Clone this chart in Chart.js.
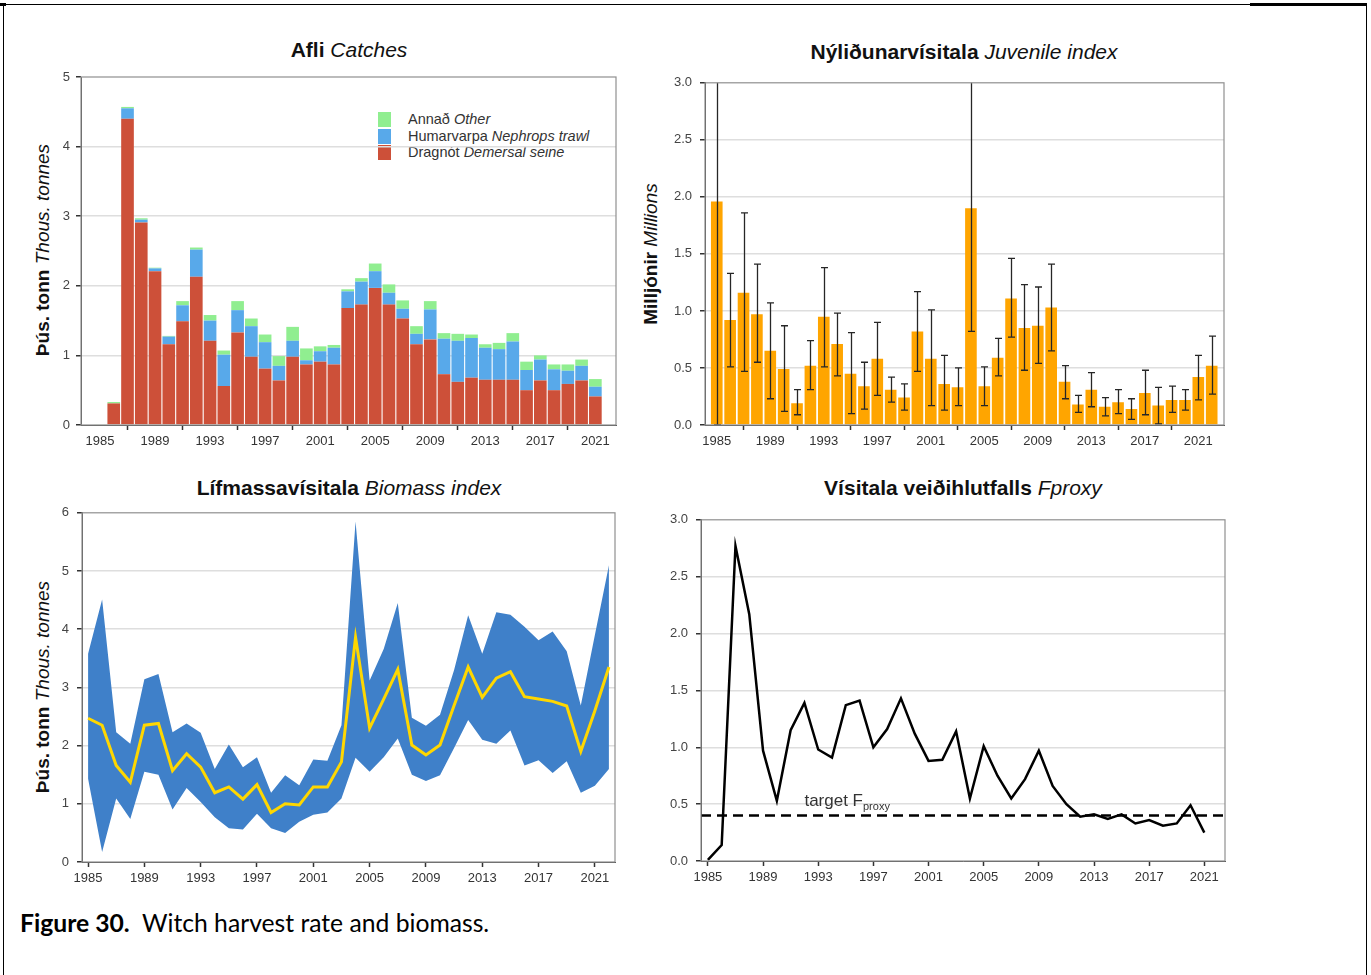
<!DOCTYPE html>
<html>
<head>
<meta charset="utf-8">
<script src="https://cdn.jsdelivr.net/npm/chart.js@4.4.1/dist/chart.umd.min.js"></script>
<style>
  html, body { margin: 0; padding: 0; background: #fff; }
  body { width: 1371px; height: 975px; position: relative; overflow: hidden;
         font-family: "Liberation Sans", Arial, sans-serif; color: #111; }
  canvas { position: absolute; }
  .rule { position: absolute; background: #000; }
  .title { position: absolute; font-size: 21px; font-weight: bold; white-space: nowrap;
           transform: translate(-50%, -50%); color: #111; }
  .title i, .ylab i, .legend i { font-weight: normal; }
  .ylab { position: absolute; font-size: 19px; font-weight: bold; white-space: nowrap;
          transform: translate(-50%, -50%) rotate(-90deg); color: #111; }
  .legend { position: absolute; font-size: 14.5px; color: #333; }
  .legend .row { height: 16.5px; line-height: 16.5px; white-space: nowrap; position: relative; padding-left: 30px; }
  .legend .sw { position: absolute; left: 0; top: 1px; width: 13px; height: 15px; }
  .caption { position: absolute; left: 20px; top: 908px; font-family: Lato, "Open Sans", sans-serif;
             font-size: 24.7px; color: #000; white-space: nowrap; }
</style>
</head>
<body>

<!-- page frame -->
<div class="rule" style="left:0;top:3px;width:6px;height:3px"></div>
<div class="rule" style="left:3px;top:4px;width:1364px;height:1px"></div>
<div class="rule" style="left:1250px;top:3px;width:117px;height:3px"></div>
<div class="rule" style="left:3px;top:4px;width:1px;height:971px"></div>
<div class="rule" style="left:1366px;top:4px;width:1px;height:971px"></div>

<div class="title" style="left:349px;top:50px">Afli <i>Catches</i></div>
<div class="title" style="left:964px;top:52px">Nýliðunarvísitala <i>Juvenile index</i></div>
<div class="title" style="left:349px;top:488px">Lífmassavísitala <i>Biomass index</i></div>
<div class="title" style="left:963px;top:488px">Vísitala veiðihlutfalls <i>Fproxy</i></div>

<div class="ylab" style="left:43px;top:250px">Þús. tonn <i>Thous. tonnes</i></div>
<div class="ylab" style="left:651px;top:254px">Milljónir <i>Millions</i></div>
<div class="ylab" style="left:43px;top:687px">Þús. tonn <i>Thous. tonnes</i></div>

<div class="legend" id="catchLegend" style="left:378px;top:111px"></div>

<canvas id="catches"></canvas>
<canvas id="juvenile"></canvas>
<canvas id="biomass"></canvas>
<canvas id="fproxy"></canvas>

<div class="caption"><b>Figure 30.</b>&nbsp; Witch harvest rate and biomass.</div>

<script>
// ---- data -------------------------------------------------------------
const yearTicks = [1985, 1989, 1993, 1997, 2001, 2005, 2009, 2013, 2017, 2021];

// Catches by gear, thousand tonnes
const catchYears = [1985, 1986, 1987, 1988, 1989, 1990, 1991, 1992, 1993, 1994,
  1995, 1996, 1997, 1998, 1999, 2000, 2001, 2002, 2003, 2004, 2005, 2006, 2007,
  2008, 2009, 2010, 2011, 2012, 2013, 2014, 2015, 2016, 2017, 2018, 2019, 2020, 2021];
const demersalSeine = [0.00, 0.31, 4.40, 2.91, 2.21, 1.16, 1.49, 2.13, 1.21, 0.56,
  1.33, 0.98, 0.81, 0.64, 0.98, 0.87, 0.91, 0.87, 1.68, 1.73, 1.97, 1.73, 1.53,
  1.16, 1.23, 0.73, 0.62, 0.68, 0.65, 0.65, 0.65, 0.50, 0.64, 0.50, 0.59, 0.64, 0.41];
const nephropsTrawl = [0.00, 0.00, 0.15, 0.04, 0.04, 0.11, 0.23, 0.39, 0.29, 0.45,
  0.32, 0.44, 0.38, 0.21, 0.23, 0.06, 0.15, 0.24, 0.24, 0.33, 0.24, 0.17, 0.14,
  0.15, 0.43, 0.51, 0.59, 0.57, 0.46, 0.44, 0.55, 0.29, 0.30, 0.30, 0.19, 0.21, 0.14];
const otherGear = [0.01, 0.02, 0.02, 0.02, 0.01, 0.01, 0.06, 0.03, 0.08, 0.06,
  0.13, 0.11, 0.11, 0.14, 0.20, 0.17, 0.07, 0.04, 0.03, 0.05, 0.11, 0.12, 0.12,
  0.11, 0.12, 0.08, 0.10, 0.05, 0.05, 0.09, 0.12, 0.12, 0.06, 0.07, 0.09, 0.09, 0.11];

// Juvenile survey index, millions, with confidence limits
const juvYears = [1985, 1986, 1987, 1988, 1989, 1990, 1991, 1992, 1993, 1994,
  1995, 1996, 1997, 1998, 1999, 2000, 2001, 2002, 2003, 2004, 2005, 2006, 2007,
  2008, 2009, 2010, 2011, 2012, 2013, 2014, 2015, 2016, 2017, 2018, 2019, 2020, 2021, 2022];
const juvIndex = [1.96, 0.92, 1.16, 0.97, 0.65, 0.49, 0.19, 0.52, 0.95, 0.71,
  0.45, 0.34, 0.58, 0.31, 0.24, 0.82, 0.58, 0.36, 0.33, 1.90, 0.34, 0.59, 1.11,
  0.85, 0.87, 1.03, 0.38, 0.18, 0.31, 0.16, 0.20, 0.14, 0.28, 0.17, 0.22, 0.22, 0.42, 0.52];
const juvLow = [0.00, 0.51, 0.47, 0.55, 0.23, 0.12, 0.09, 0.31, 0.51, 0.43,
  0.10, 0.14, 0.26, 0.20, 0.13, 0.47, 0.17, 0.13, 0.17, 0.82, 0.17, 0.43, 0.77,
  0.48, 0.54, 0.65, 0.23, 0.11, 0.16, 0.08, 0.10, 0.05, 0.09, 0.01, 0.11, 0.13, 0.22, 0.27];
const juvHigh = [4.60, 1.33, 1.86, 1.41, 1.07, 0.87, 0.31, 0.74, 1.38, 0.98,
  0.81, 0.55, 0.90, 0.42, 0.36, 1.17, 1.01, 0.61, 0.50, 4.20, 0.51, 0.76, 1.46,
  1.23, 1.21, 1.41, 0.52, 0.26, 0.46, 0.24, 0.31, 0.23, 0.48, 0.33, 0.34, 0.31, 0.61, 0.78];

// Survey biomass index, thousand tonnes, with confidence band
const bioYears = [1985, 1986, 1987, 1988, 1989, 1990, 1991, 1992, 1993, 1994,
  1995, 1996, 1997, 1998, 1999, 2000, 2001, 2002, 2003, 2004, 2005, 2006, 2007,
  2008, 2009, 2010, 2011, 2012, 2013, 2014, 2015, 2016, 2017, 2018, 2019, 2020, 2021, 2022];
const bioMean = [2.47, 2.35, 1.66, 1.37, 2.35, 2.38, 1.57, 1.86, 1.63, 1.19,
  1.29, 1.08, 1.33, 0.85, 1.00, 0.98, 1.29, 1.29, 1.72, 3.86, 2.30, 2.80, 3.31,
  2.01, 1.84, 2.01, 2.69, 3.35, 2.83, 3.16, 3.27, 2.84, 2.80, 2.76, 2.68, 1.90, 2.60, 3.35];
const bioLow = [1.43, 0.17, 1.09, 0.74, 1.55, 1.50, 0.90, 1.27, 1.03, 0.77,
  0.58, 0.56, 0.83, 0.58, 0.50, 0.69, 0.81, 0.85, 1.09, 1.79, 1.55, 1.80, 2.12,
  1.50, 1.39, 1.49, 1.96, 2.44, 2.10, 2.03, 2.26, 1.66, 1.75, 1.53, 1.73, 1.19, 1.31, 1.60];
const bioHigh = [3.58, 4.51, 2.23, 2.03, 3.14, 3.23, 2.23, 2.38, 2.22, 1.60,
  2.02, 1.63, 1.80, 1.19, 1.49, 1.32, 1.76, 1.74, 2.35, 5.85, 3.12, 3.66, 4.45,
  2.48, 2.34, 2.53, 3.30, 4.24, 3.58, 4.29, 4.25, 4.04, 3.81, 3.96, 3.62, 2.69, 3.90, 5.10];

// Harvest rate index (catch / biomass) and its target
const fYears = [1985, 1986, 1987, 1988, 1989, 1990, 1991, 1992, 1993, 1994,
  1995, 1996, 1997, 1998, 1999, 2000, 2001, 2002, 2003, 2004, 2005, 2006, 2007,
  2008, 2009, 2010, 2011, 2012, 2013, 2014, 2015, 2016, 2017, 2018, 2019, 2020, 2021];
const fProxy = [0.01, 0.14, 2.77, 2.17, 0.97, 0.53, 1.15, 1.39, 0.98, 0.91,
  1.37, 1.41, 1.00, 1.16, 1.43, 1.12, 0.88, 0.89, 1.14, 0.55, 1.01, 0.75, 0.55,
  0.72, 0.97, 0.66, 0.50, 0.39, 0.41, 0.37, 0.41, 0.33, 0.36, 0.31, 0.33, 0.49, 0.25];
const fTarget = 0.4;

// ---- styling ----------------------------------------------------------
const FONT = '"Liberation Sans", Arial, sans-serif';
const COL = {
  seine: '#CD5039', nephrops: '#58A9EA', other: '#90EE90',
  juvenile: '#FFA500', band: '#3F80C9', mean: '#FFD700', fline: '#000'
};
Chart.defaults.font.family = FONT;
Chart.defaults.animation = false;

const AX_W = 50, AX_H = 35, PAD = 15;

function placeCanvas(id, area) {
  const c = document.getElementById(id);
  const w = area.right - area.left + AX_W + PAD;
  const h = area.bottom - area.top + AX_H + PAD;
  c.width = w; c.height = h;
  c.style.width = w + 'px'; c.style.height = h + 'px';
  c.style.left = (area.left - AX_W) + 'px';
  c.style.top = (area.top - PAD) + 'px';
  return c;
}

function xAxis(min, max) {
  return {
    type: 'linear', min: min, max: max, offset: false, stacked: true,
    afterBuildTicks: s => { s.ticks = yearTicks.map(v => ({ value: v })); },
    afterFit: s => { s.height = AX_H; },
    grid: { drawOnChartArea: false, drawTicks: true, tickLength: 5, tickColor: '#333', tickWidth: 1.5 },
    border: { display: true, color: '#444', width: 1 },
    ticks: { color: '#333', font: { size: 13 }, padding: 4, maxRotation: 0, autoSkip: false,
             callback: v => String(v) }
  };
}

function yAxis(max, step, decimals, pad) {
  return {
    type: 'linear', min: 0, max: max, stacked: true,
    afterFit: s => { s.width = AX_W; },
    grid: {
      color: ctx => (ctx.tick && (ctx.tick.value === 0 || ctx.tick.value === max)) ? 'rgba(0,0,0,0)' : '#dedede',
      lineWidth: 1.5, tickColor: '#333', tickLength: 5, tickWidth: 1.5
    },
    border: { display: true, color: '#444', width: 1 },
    ticks: { stepSize: step, color: '#444', font: { size: 13 }, padding: pad,
             callback: v => Number(v).toFixed(decimals) }
  };
}

// grey frame round the plotting region
const plotBox = {
  id: 'plotBox',
  afterDatasetsDraw(chart) {
    const { ctx, chartArea: a } = chart;
    ctx.save();
    ctx.strokeStyle = '#8f8f8f';
    ctx.lineWidth = 1.2;
    ctx.strokeRect(a.left, a.top, a.right - a.left, a.bottom - a.top);
    ctx.restore();
  }
};

function errorBarPlugin(years, low, high) {
  return {
    id: 'errorBars',
    afterDatasetsDraw(chart) {
      const { ctx, chartArea: a, scales: { x, y } } = chart;
      ctx.save();
      ctx.beginPath();
      ctx.rect(a.left, a.top, a.right - a.left, a.bottom - a.top);
      ctx.clip();
      ctx.strokeStyle = '#262626';
      ctx.lineWidth = 1.3;
      years.forEach((yr, i) => {
        const px = Math.round(x.getPixelForValue(yr)) + 0.5;
        const lo = y.getPixelForValue(low[i]);
        const hi = y.getPixelForValue(high[i]);
        ctx.beginPath();
        ctx.moveTo(px, lo); ctx.lineTo(px, hi);
        ctx.moveTo(px - 3.5, lo); ctx.lineTo(px + 3.5, lo);
        ctx.moveTo(px - 3.5, hi); ctx.lineTo(px + 3.5, hi);
        ctx.stroke();
      });
      ctx.restore();
    }
  };
}

function targetPlugin(value) {
  return {
    id: 'targetLine',
    afterDatasetsDraw(chart) {
      const { ctx, chartArea: a, scales: { x, y } } = chart;
      const py = y.getPixelForValue(value);
      ctx.save();
      ctx.strokeStyle = '#000';
      ctx.lineWidth = 2.4;
      ctx.setLineDash([10, 6]);
      ctx.beginPath();
      ctx.moveTo(a.left, py); ctx.lineTo(a.right, py);
      ctx.stroke();
      ctx.setLineDash([]);
      // label above the dashed line
      const lx = x.getPixelForValue(1992);
      const ly = y.getPixelForValue(value + 0.08);
      ctx.fillStyle = '#333';
      ctx.textBaseline = 'alphabetic';
      ctx.font = '17px ' + FONT;
      ctx.fillText('target F', lx, ly);
      const w = ctx.measureText('target F').width;
      ctx.font = '11px ' + FONT;
      ctx.fillText('proxy', lx + w, ly + 4);
      ctx.restore();
    }
  };
}

const common = {
  responsive: false, maintainAspectRatio: false, animation: false,
  layout: { padding: { left: 0, top: PAD, right: PAD, bottom: 0 } },
  plugins: { legend: { display: false }, tooltip: { enabled: false } }
};

// ---- Afli / Catches ----------------------------------------------------
(function () {
  const c = placeCanvas('catches', { left: 81, right: 616, top: 77, bottom: 425 });
  const series = [
    { label: 'Dragnót', data: demersalSeine, color: COL.seine },
    { label: 'Humarvarpa', data: nephropsTrawl, color: COL.nephrops },
    { label: 'Annað', data: otherGear, color: COL.other }
  ];
  new Chart(c, {
    type: 'bar',
    data: {
      datasets: series.map(s => ({
        label: s.label,
        data: catchYears.map((yr, i) => ({ x: yr, y: s.data[i] })),
        backgroundColor: s.color, borderWidth: 0,
        categoryPercentage: 1.0, barPercentage: 0.92
      }))
    },
    options: Object.assign({}, common, {
      scales: { x: xAxis(1983.62, 2022.5), y: yAxis(5, 1, 0, 6) }
    }),
    plugins: [plotBox]
  });

  // legend, top entry first
  const leg = document.getElementById('catchLegend');
  const entries = [
    ['Annað', 'Other', COL.other],
    ['Humarvarpa', 'Nephrops trawl', COL.nephrops],
    ['Dragnót', 'Demersal seine', COL.seine]
  ];
  entries.forEach(([is, en, col]) => {
    const row = document.createElement('div');
    row.className = 'row';
    row.innerHTML = '<span class="sw" style="background:' + col + '"></span>' + is + ' <i>' + en + '</i>';
    leg.appendChild(row);
  });
})();

// ---- Nýliðunarvísitala / Juvenile index ------------------------------
(function () {
  const c = placeCanvas('juvenile', { left: 705, right: 1224, top: 82, bottom: 425 });
  new Chart(c, {
    type: 'bar',
    data: {
      datasets: [{
        label: 'Juvenile index',
        data: juvYears.map((yr, i) => ({ x: yr, y: juvIndex[i] })),
        backgroundColor: COL.juvenile, borderWidth: 0,
        categoryPercentage: 1.0, barPercentage: 0.87
      }]
    },
    options: Object.assign({}, common, {
      scales: { x: xAxis(1984.12, 2022.92), y: yAxis(3, 0.5, 1, 8) }
    }),
    plugins: [errorBarPlugin(juvYears, juvLow, juvHigh), plotBox]
  });
})();

// ---- Lífmassavísitala / Biomass index ---------------------------------
(function () {
  const c = placeCanvas('biomass', { left: 82, right: 615, top: 512, bottom: 862 });
  const pts = arr => bioYears.map((yr, i) => ({ x: yr, y: arr[i] }));
  new Chart(c, {
    type: 'line',
    data: {
      datasets: [
        { label: 'Biomass index', data: pts(bioMean), borderColor: COL.mean, borderWidth: 3,
          pointRadius: 0, tension: 0, fill: false },
        { label: 'Upper', data: pts(bioHigh), borderWidth: 0, borderColor: 'rgba(0,0,0,0)',
          backgroundColor: COL.band, pointRadius: 0, tension: 0, fill: '+1' },
        { label: 'Lower', data: pts(bioLow), borderWidth: 0, borderColor: 'rgba(0,0,0,0)',
          pointRadius: 0, tension: 0, fill: false }
      ]
    },
    options: Object.assign({}, common, {
      scales: {
        x: Object.assign(xAxis(1984.57, 2022.43), { stacked: false }),
        y: Object.assign(yAxis(6, 1, 0, 8), { stacked: false })
      }
    }),
    plugins: [plotBox]
  });
})();

// ---- Vísitala veiðihlutfalls / Fproxy ---------------------------------
(function () {
  const c = placeCanvas('fproxy', { left: 701, right: 1225, top: 519, bottom: 861 });
  new Chart(c, {
    type: 'line',
    data: {
      datasets: [{
        label: 'Fproxy', data: fYears.map((yr, i) => ({ x: yr, y: fProxy[i] })),
        borderColor: COL.fline, borderWidth: 2.5, pointRadius: 0, tension: 0, fill: false
      }]
    },
    options: Object.assign({}, common, {
      scales: {
        x: Object.assign(xAxis(1984.5, 2022.5), { stacked: false }),
        y: Object.assign(yAxis(3, 0.5, 1, 8), { stacked: false })
      }
    }),
    plugins: [targetPlugin(fTarget), plotBox]
  });
})();
</script>
</body>
</html>
